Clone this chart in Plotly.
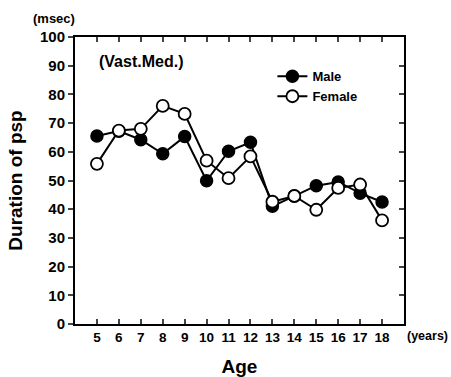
import plotly.graph_objects as go

ages = [5, 6, 7, 8, 9, 10, 11, 12, 13, 14, 15, 16, 17, 18]
male = [65.5, 67.2, 64.2, 59.3, 65.3, 49.9, 60.2, 63.3, 41.0, 44.6, 48.2, 49.5, 45.6, 42.5]
female = [55.8, 67.4, 68.0, 76.0, 73.2, 56.9, 50.8, 58.4, 42.6, 44.6, 39.8, 47.4, 48.6, 36.1]
x_ticks = ages
y_ticks = [0, 10, 20, 30, 40, 50, 60, 70, 80, 90, 100]

FONT = "Liberation Sans, Arial, sans-serif"

fig = go.Figure()
fig.add_trace(go.Scatter(
    x=ages, y=male, name="Male", mode="lines+markers",
    line=dict(color="black", width=2),
    marker=dict(symbol="circle", size=12, color="black", line=dict(color="black", width=1.5)),
))
fig.add_trace(go.Scatter(
    x=ages, y=female, name="Female", mode="lines+markers",
    line=dict(color="black", width=2),
    marker=dict(symbol="circle", size=12, color="white", line=dict(color="black", width=1.8)),
))
# invisible trace to drive the right axis
fig.add_trace(go.Scatter(x=[ages[0]], y=[0], yaxis="y2", mode="markers",
                         marker=dict(opacity=0), showlegend=False, hoverinfo="skip"))

fig.update_layout(
    width=451, height=377,
    margin=dict(l=75, r=47, t=37, b=53),
    paper_bgcolor="white", plot_bgcolor="white",
    font=dict(family=FONT, color="black"),
    showlegend=True,
    legend=dict(x=0.6, y=0.915, xanchor="left", yanchor="top",
                font=dict(size=13, family=FONT, weight="bold"),
                bgcolor="rgba(0,0,0,0)", tracegroupgap=0),
    xaxis=dict(range=[4, 19], tickvals=x_ticks, ticks="inside", ticklen=5, tickwidth=1.5,
               showline=True, linecolor="black", linewidth=2, mirror="ticks",
               showgrid=False, zeroline=False, automargin=False,
               tickfont=dict(size=13.5, family=FONT, weight="bold"),
               title=dict(text="Age", font=dict(size=19, family=FONT, weight="bold"), standoff=16)),
    yaxis=dict(range=[0, 100], tickvals=y_ticks, ticks="outside", ticklen=5, tickwidth=1.5,
               showline=True, linecolor="black", linewidth=2, mirror=True,
               showgrid=False, zeroline=False, automargin=False,
               tickfont=dict(size=15, family=FONT, weight="bold"),
               title=dict(text="Duration of psp", font=dict(size=19, family=FONT, weight="bold"), standoff=12)),
    yaxis2=dict(range=[0, 100], tickvals=y_ticks, overlaying="y", side="right",
                ticks="inside", ticklen=5, tickwidth=1.5, showticklabels=False,
                showgrid=False, zeroline=False, showline=False, automargin=False),
    annotations=[
        dict(text="(Vast.Med.)", xref="paper", yref="paper", x=0.067, y=0.913,
             xanchor="left", yanchor="middle", showarrow=False,
             font=dict(size=16, family=FONT, weight="bold")),
        dict(text="(msec)", xref="paper", yref="paper", x=-0.065, y=1.063,
             xanchor="center", yanchor="middle", showarrow=False,
             font=dict(size=13, family=FONT, weight="bold")),
        dict(text="(years)", xref="paper", yref="paper", x=1.003, y=-0.042,
             xanchor="left", yanchor="middle", showarrow=False,
             font=dict(size=12.5, family=FONT, weight="bold")),
    ],
)

fig.write_html("out.html")
